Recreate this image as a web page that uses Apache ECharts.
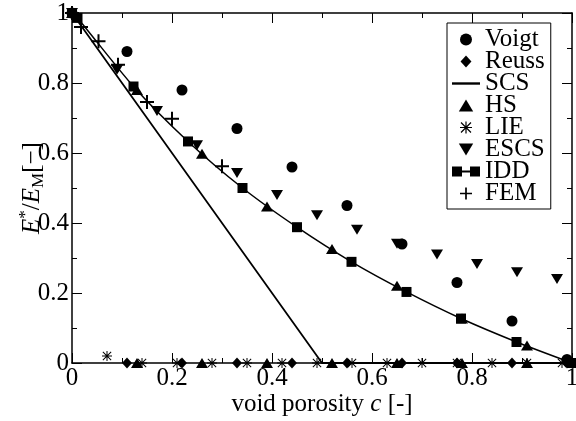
<!DOCTYPE html>
<html>
<head>
<meta charset="utf-8">
<script src="https://cdn.jsdelivr.net/npm/echarts@6/dist/echarts.min.js"></script>
<style>
  html, body { margin: 0; padding: 0; background: #fff; }
  #chart { width: 576px; height: 421px; }
</style>
</head>
<body>
<div id="chart"></div>
<script>
// values, [c, E*/E_M]
var voigt = [[0, 1], [0.11, 0.89], [0.22, 0.78], [0.33, 0.67], [0.44, 0.56], [0.55, 0.45],
  [0.66, 0.34], [0.77, 0.23], [0.88, 0.12], [0.99, 0.01]];
var reuss = [[0, 1], [0.11, 0], [0.22, 0], [0.33, 0], [0.44, 0], [0.55, 0],
  [0.66, 0], [0.77, 0], [0.88, 0], [0.99, 0]];
var scs = [[0, 1], [0.5, 0], [1, 0]];
var hs = [[0, 1], [0.13, 0.78], [0.26, 0.598], [0.39, 0.447], [0.52, 0.326], [0.65, 0.221],
  [0.78, 0.127], [0.91, 0.05],
  [0.13, 0], [0.26, 0], [0.39, 0], [0.52, 0], [0.65, 0], [0.78, 0], [0.91, 0]];
var lie = [[0, 1], [0.07, 0.02], [0.14, 0], [0.21, 0], [0.28, 0], [0.35, 0], [0.42, 0], [0.49, 0],
  [0.56, 0], [0.63, 0], [0.70, 0], [0.77, 0], [0.84, 0], [0.91, 0], [0.98, 0]];
var escs = [[0, 1], [0.09, 0.838], [0.17, 0.72], [0.25, 0.622], [0.33, 0.543], [0.41, 0.48],
  [0.49, 0.422], [0.57, 0.381], [0.65, 0.341], [0.73, 0.31], [0.81, 0.283], [0.89, 0.259], [0.97, 0.24]];
var idd = [[0, 1], [0.011, 0.986], [0.123, 0.79], [0.232, 0.633], [0.341, 0.5], [0.45, 0.388],
  [0.559, 0.289], [0.669, 0.203], [0.778, 0.127], [0.889, 0.06], [1, 0]];
var fem = [[0, 1], [0.018, 0.96], [0.053, 0.919], [0.092, 0.852], [0.15, 0.746], [0.2, 0.698], [0.3, 0.562]];

var names = ['Voigt', 'Reuss', 'SCS', 'HS', 'LIE', 'ESCS', 'IDD', 'FEM'];

var font = 'Liberation Serif';
var plusPath = 'path://M6,0h2v14h-2z M0,6h14v2h-14z';
var starPath = 'path://M4.5,0h1v10h-1z M0,4.5h10v1h-10z M1.2,0.5L9.5,8.8L8.8,9.5L0.5,1.2z M8.8,0.5L9.5,1.2L1.2,9.5L0.5,8.8z';
var downTri = 'path://M0,0L12,0L6,10Z';
var upTri = 'path://M6,0L12,10L0,10Z';
var diamond = 'path://M5,0L10,5.5L5,11L0,5.5Z';
var lineIcon = 'path://M0,0h21v1.8h-21z';
var iddIcon = 'path://M0,0h10v10h-10z M18,0h10v10h-10z M10,4.1h8v1.8h-8z';

var chart = echarts.init(document.getElementById('chart'));

function valAxis(pos, showLabel) {
  return {
    type: 'value',
    position: pos,
    min: 0,
    max: 1,
    interval: 0.2,
    axisLine: { show: true, onZero: false, lineStyle: { color: '#000', width: 1.5 } },
    axisTick: { show: true, inside: true, length: 10, lineStyle: { color: '#000', width: 1 } },
    minorTick: { show: true, splitNumber: 2, length: 5, lineStyle: { color: '#000', width: 1 } },
    splitLine: { show: false },
    axisLabel: { show: showLabel, color: '#000', fontFamily: font, fontSize: 25, margin: 3 }
  };
}

var xMain = valAxis('bottom', true);
xMain.name = 'void porosity {i|c} [-]';
xMain.nameLocation = 'middle';
xMain.nameGap = 29;
xMain.nameMoveOverlap = false;
xMain.nameTextStyle = {
  color: '#000', fontFamily: font, fontSize: 25,
  rich: { i: { fontStyle: 'italic', fontFamily: font, fontSize: 25, color: '#000' } }
};

var yMain = valAxis('left', true);
yMain.name = '{i|E}{sup|*}{n|/}{i|E}{sub|M}{n|[−]}';
yMain.nameLocation = 'middle';
yMain.nameRotate = 90;
yMain.nameGap = 25;
yMain.nameMoveOverlap = false;
yMain.nameTextStyle = {
  color: '#000', fontFamily: font, fontSize: 25,
  rich: {
    i: { fontStyle: 'italic', fontFamily: font, fontSize: 25, lineHeight: 30, color: '#000' },
    n: { fontFamily: font, fontSize: 25, lineHeight: 30, color: '#000' },
    sup: { fontFamily: font, fontSize: 17, lineHeight: 17, verticalAlign: 'top', color: '#000' },
    sub: { fontFamily: font, fontSize: 17, lineHeight: 17, verticalAlign: 'bottom', color: '#000' }
  }
};

function pts(name, data, symbol, size) {
  return {
    name: name, type: 'scatter', data: data, symbol: symbol, symbolSize: size,
    itemStyle: { color: '#000', opacity: 1 }, clip: false, z: 3
  };
}

var option = {
  animation: false,
  backgroundColor: '#fff',
  textStyle: { fontFamily: font, color: '#000' },
  grid: { left: 72, right: 4, top: 13, bottom: 58, outerBoundsMode: 'none', containLabel: false },
  xAxis: [xMain, valAxis('top', false)],
  yAxis: [yMain, valAxis('right', false)],
  legend: {
    left: 447, top: 23, orient: 'vertical',
    itemWidth: 28, itemHeight: 12, itemGap: -3,
    padding: [4, 6, 3, 5],
    borderColor: '#000', borderWidth: 1, borderRadius: 0,
    backgroundColor: '#fff', selectedMode: false,
    textStyle: { color: '#000', fontFamily: font, fontSize: 25 },
    data: [
      { name: names[0], icon: 'circle' },
      { name: names[1], icon: diamond },
      { name: names[2], icon: lineIcon },
      { name: names[3], icon: upTri },
      { name: names[4], icon: starPath },
      { name: names[5], icon: downTri },
      { name: names[6], icon: iddIcon },
      { name: names[7], icon: plusPath }
    ]
  },
  series: [
    {
      name: names[2], type: 'line', data: scs, symbol: 'none', clip: false,
      lineStyle: { color: '#000', width: 1.8 }, itemStyle: { color: '#000' }
    },
    {
      name: names[6], type: 'line', data: idd, symbol: 'rect', symbolSize: 10, showSymbol: true,
      smooth: 0.25, clip: false,
      lineStyle: { color: '#000', width: 1.5 }, itemStyle: { color: '#000' }
    },
    pts(names[0], voigt, 'circle', 11),
    pts(names[1], reuss, diamond, [10, 11]),
    pts(names[3], hs, upTri, [12, 10]),
    pts(names[4], lie, starPath, 10),
    pts(names[5], escs, downTri, [12, 10]),
    pts(names[7], fem, plusPath, 14)
  ]
};

chart.setOption(option);
</script>
</body>
</html>
